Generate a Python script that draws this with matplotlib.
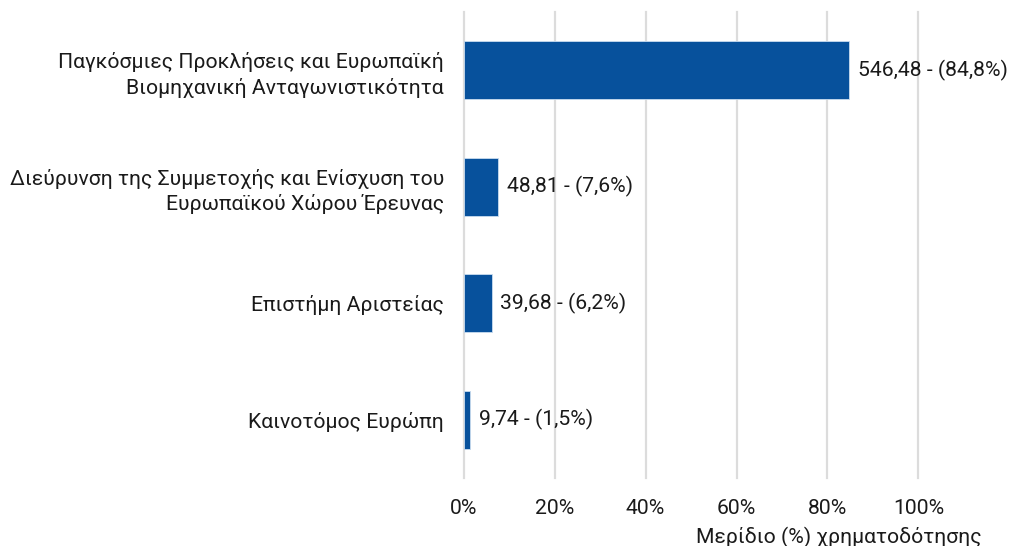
import matplotlib.pyplot as plt

categories = [
    'Παγκόσμιες Προκλήσεις και Ευρωπαϊκή\nΒιομηχανική Ανταγωνιστικότητα',
    'Διεύρυνση της Συμμετοχής και Ενίσχυση του\nΕυρωπαϊκού Χώρου Έρευνας',
    'Επιστήμη Αριστείας',
    'Καινοτόμος Ευρώπη',
]
amounts = ['546,48', '48,81', '39,68', '9,74']
shares = [84.8, 7.6, 6.2, 1.5]
xticks = [0, 20, 40, 60, 80, 100]

plt.rcParams['font.family'] = ['Roboto', 'DejaVu Sans']
fs = 15.2

fig = plt.figure(figsize=(10.11, 5.46), dpi=100)
ax = fig.add_axes([463.5 / 1011, 1 - 478 / 546, 455 / 1011, 466 / 546])

ypos = list(range(len(categories)))
ax.barh(ypos, shares, height=0.5, color='#07519C', edgecolor='#c9dcef', linewidth=0.6, zorder=3)

for y, s, a in zip(ypos, shares, amounts):
    lbl = '%s - (%s%%)' % (a, ('%.1f' % s).replace('.', ','))
    ax.text(s + 1.9, y, lbl, va='center', ha='left', fontsize=fs, color='#1a1a1a', zorder=4)

ax.set_xlim(0, 100)
ax.set_ylim(len(categories) - 0.5, -0.5)
ax.set_yticks(ypos)
ax.set_yticklabels(categories, fontsize=fs, color='#1a1a1a', multialignment='right', linespacing=1.35)
ax.set_xticks(xticks)
ax.set_xticklabels(['%d%%' % t for t in xticks], fontsize=fs, color='#1a1a1a')
ax.tick_params(axis='both', length=0)
ax.tick_params(axis='x', pad=15)
ax.tick_params(axis='y', pad=14)
ax.grid(axis='x', color='#dcdcdc', linewidth=1.6, zorder=0)
for gl in ax.get_xgridlines():
    gl.set_clip_on(False)
for sp in ax.spines.values():
    sp.set_visible(False)

fig.text(839 / 1011, 1 - 537 / 546, 'Μερίδιο (%) χρηματοδότησης', ha='center', va='center',
         fontsize=fs, color='#1a1a1a')

fig.savefig('out.png', dpi=100)
